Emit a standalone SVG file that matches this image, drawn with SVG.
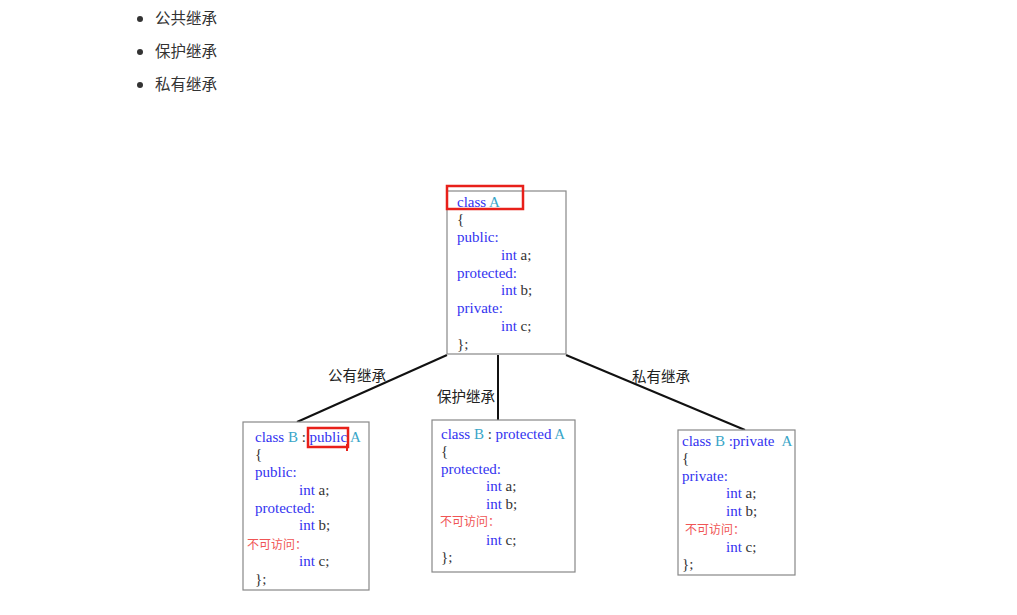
<svg xmlns="http://www.w3.org/2000/svg" width="1017" height="615" viewBox="0 0 1017 615">
<style>
.bul{font-family:"Noto Sans CJK SC","Noto Sans",sans-serif;font-size:15.5px;fill:#333}
.code{font-family:"Liberation Serif","Noto Sans CJK SC",serif;font-size:15px;fill:#333}
.kw{fill:#3333f0}
.nm{fill:#3aa6c8}
.red{font-family:"Noto Sans CJK SC",sans-serif;font-size:12px;fill:#f05555}
.box{fill:#fff;stroke:#888;stroke-width:1.2}
.hl{fill:none;stroke:#e8201a;stroke-width:2.5}
.conn{stroke:#111;stroke-width:2;fill:none}
.lbl{font-family:"Noto Sans CJK SC",sans-serif;font-size:14.5px;fill:#222}
</style>
<rect width="1017" height="615" fill="#fff"/>
<g id="bullets">
<circle cx="140" cy="19" r="3" fill="#333"/><text class="bul" x="155" y="24">公共继承</text>
<circle cx="140" cy="52" r="3" fill="#333"/><text class="bul" x="155" y="57">保护继承</text>
<circle cx="140" cy="85" r="3" fill="#333"/><text class="bul" x="155" y="90">私有继承</text>
</g>
<g id="connectors">
<line class="conn" x1="447" y1="355" x2="297" y2="422"/>
<line class="conn" x1="498" y1="355" x2="498" y2="420"/>
<line class="conn" x1="566" y1="355" x2="745" y2="430"/>
<text class="lbl" x="328" y="381">公有继承</text>
<text class="lbl" x="437" y="402">保护继承</text>
<text class="lbl" x="632" y="382">私有继承</text>
</g>
<g id="classA">
<rect class="box" x="447" y="191" width="119" height="163"/>
<text class="code" x="457"><tspan y="207" class="kw">class <tspan class="nm">A</tspan></tspan></text>
<text class="code" x="457" y="224">{</text>
<text class="code kw" x="457" y="242">public:</text>
<text class="code" x="501" y="260"><tspan class="kw">int</tspan> a;</text>
<text class="code kw" x="457" y="278">protected:</text>
<text class="code" x="501" y="295"><tspan class="kw">int</tspan> b;</text>
<text class="code kw" x="457" y="313">private:</text>
<text class="code" x="501" y="331"><tspan class="kw">int</tspan> c;</text>
<text class="code" x="457" y="349">};</text>
<rect class="hl" x="447" y="186" width="76" height="23"/>
</g>
<g id="classB_public">
<rect class="box" x="243" y="422" width="126" height="168"/>
<text class="code" x="255" y="442"><tspan class="kw">class </tspan><tspan class="nm">B</tspan> : <tspan class="kw">public</tspan> <tspan class="nm">A</tspan></text>
<text class="code" x="255" y="459">{</text>
<text class="code kw" x="255" y="477">public:</text>
<text class="code" x="299" y="495"><tspan class="kw">int</tspan> a;</text>
<text class="code kw" x="255" y="513">protected:</text>
<text class="code" x="299" y="530"><tspan class="kw">int</tspan> b;</text>
<text class="red" x="247" y="549">不可访问：</text>
<text class="code" x="299" y="566"><tspan class="kw">int</tspan> c;</text>
<text class="code" x="255" y="584">};</text>
<rect class="hl" x="308" y="428" width="40" height="19"/>
<line x1="347" y1="444" x2="347" y2="451" stroke="#e8201a" stroke-width="2"/>
</g>
<g id="classB_protected">
<rect class="box" x="432" y="420" width="143" height="152"/>
<text class="code" x="441" y="439"><tspan class="kw">class </tspan><tspan class="nm">B</tspan> : <tspan class="kw">protected</tspan> <tspan class="nm">A</tspan></text>
<text class="code" x="441" y="456">{</text>
<text class="code kw" x="441" y="474">protected:</text>
<text class="code" x="486" y="491"><tspan class="kw">int</tspan> a;</text>
<text class="code" x="486" y="509"><tspan class="kw">int</tspan> b;</text>
<text class="red" x="440" y="526">不可访问：</text>
<text class="code" x="486" y="545"><tspan class="kw">int</tspan> c;</text>
<text class="code" x="441" y="562">};</text>
</g>
<g id="classB_private">
<rect class="box" x="678" y="430" width="117" height="145"/>
<text class="code" x="682" y="446"><tspan class="kw">class </tspan><tspan class="nm">B</tspan> <tspan class="kw">:private</tspan> <tspan class="nm" dx="4">A</tspan></text>
<text class="code" x="682" y="463">{</text>
<text class="code kw" x="682" y="481">private:</text>
<text class="code" x="726" y="498"><tspan class="kw">int</tspan> a;</text>
<text class="code" x="726" y="516"><tspan class="kw">int</tspan> b;</text>
<text class="red" x="685" y="534">不可访问：</text>
<text class="code" x="726" y="552"><tspan class="kw">int</tspan> c;</text>
<text class="code" x="682" y="569">};</text>
</g>
</svg>
